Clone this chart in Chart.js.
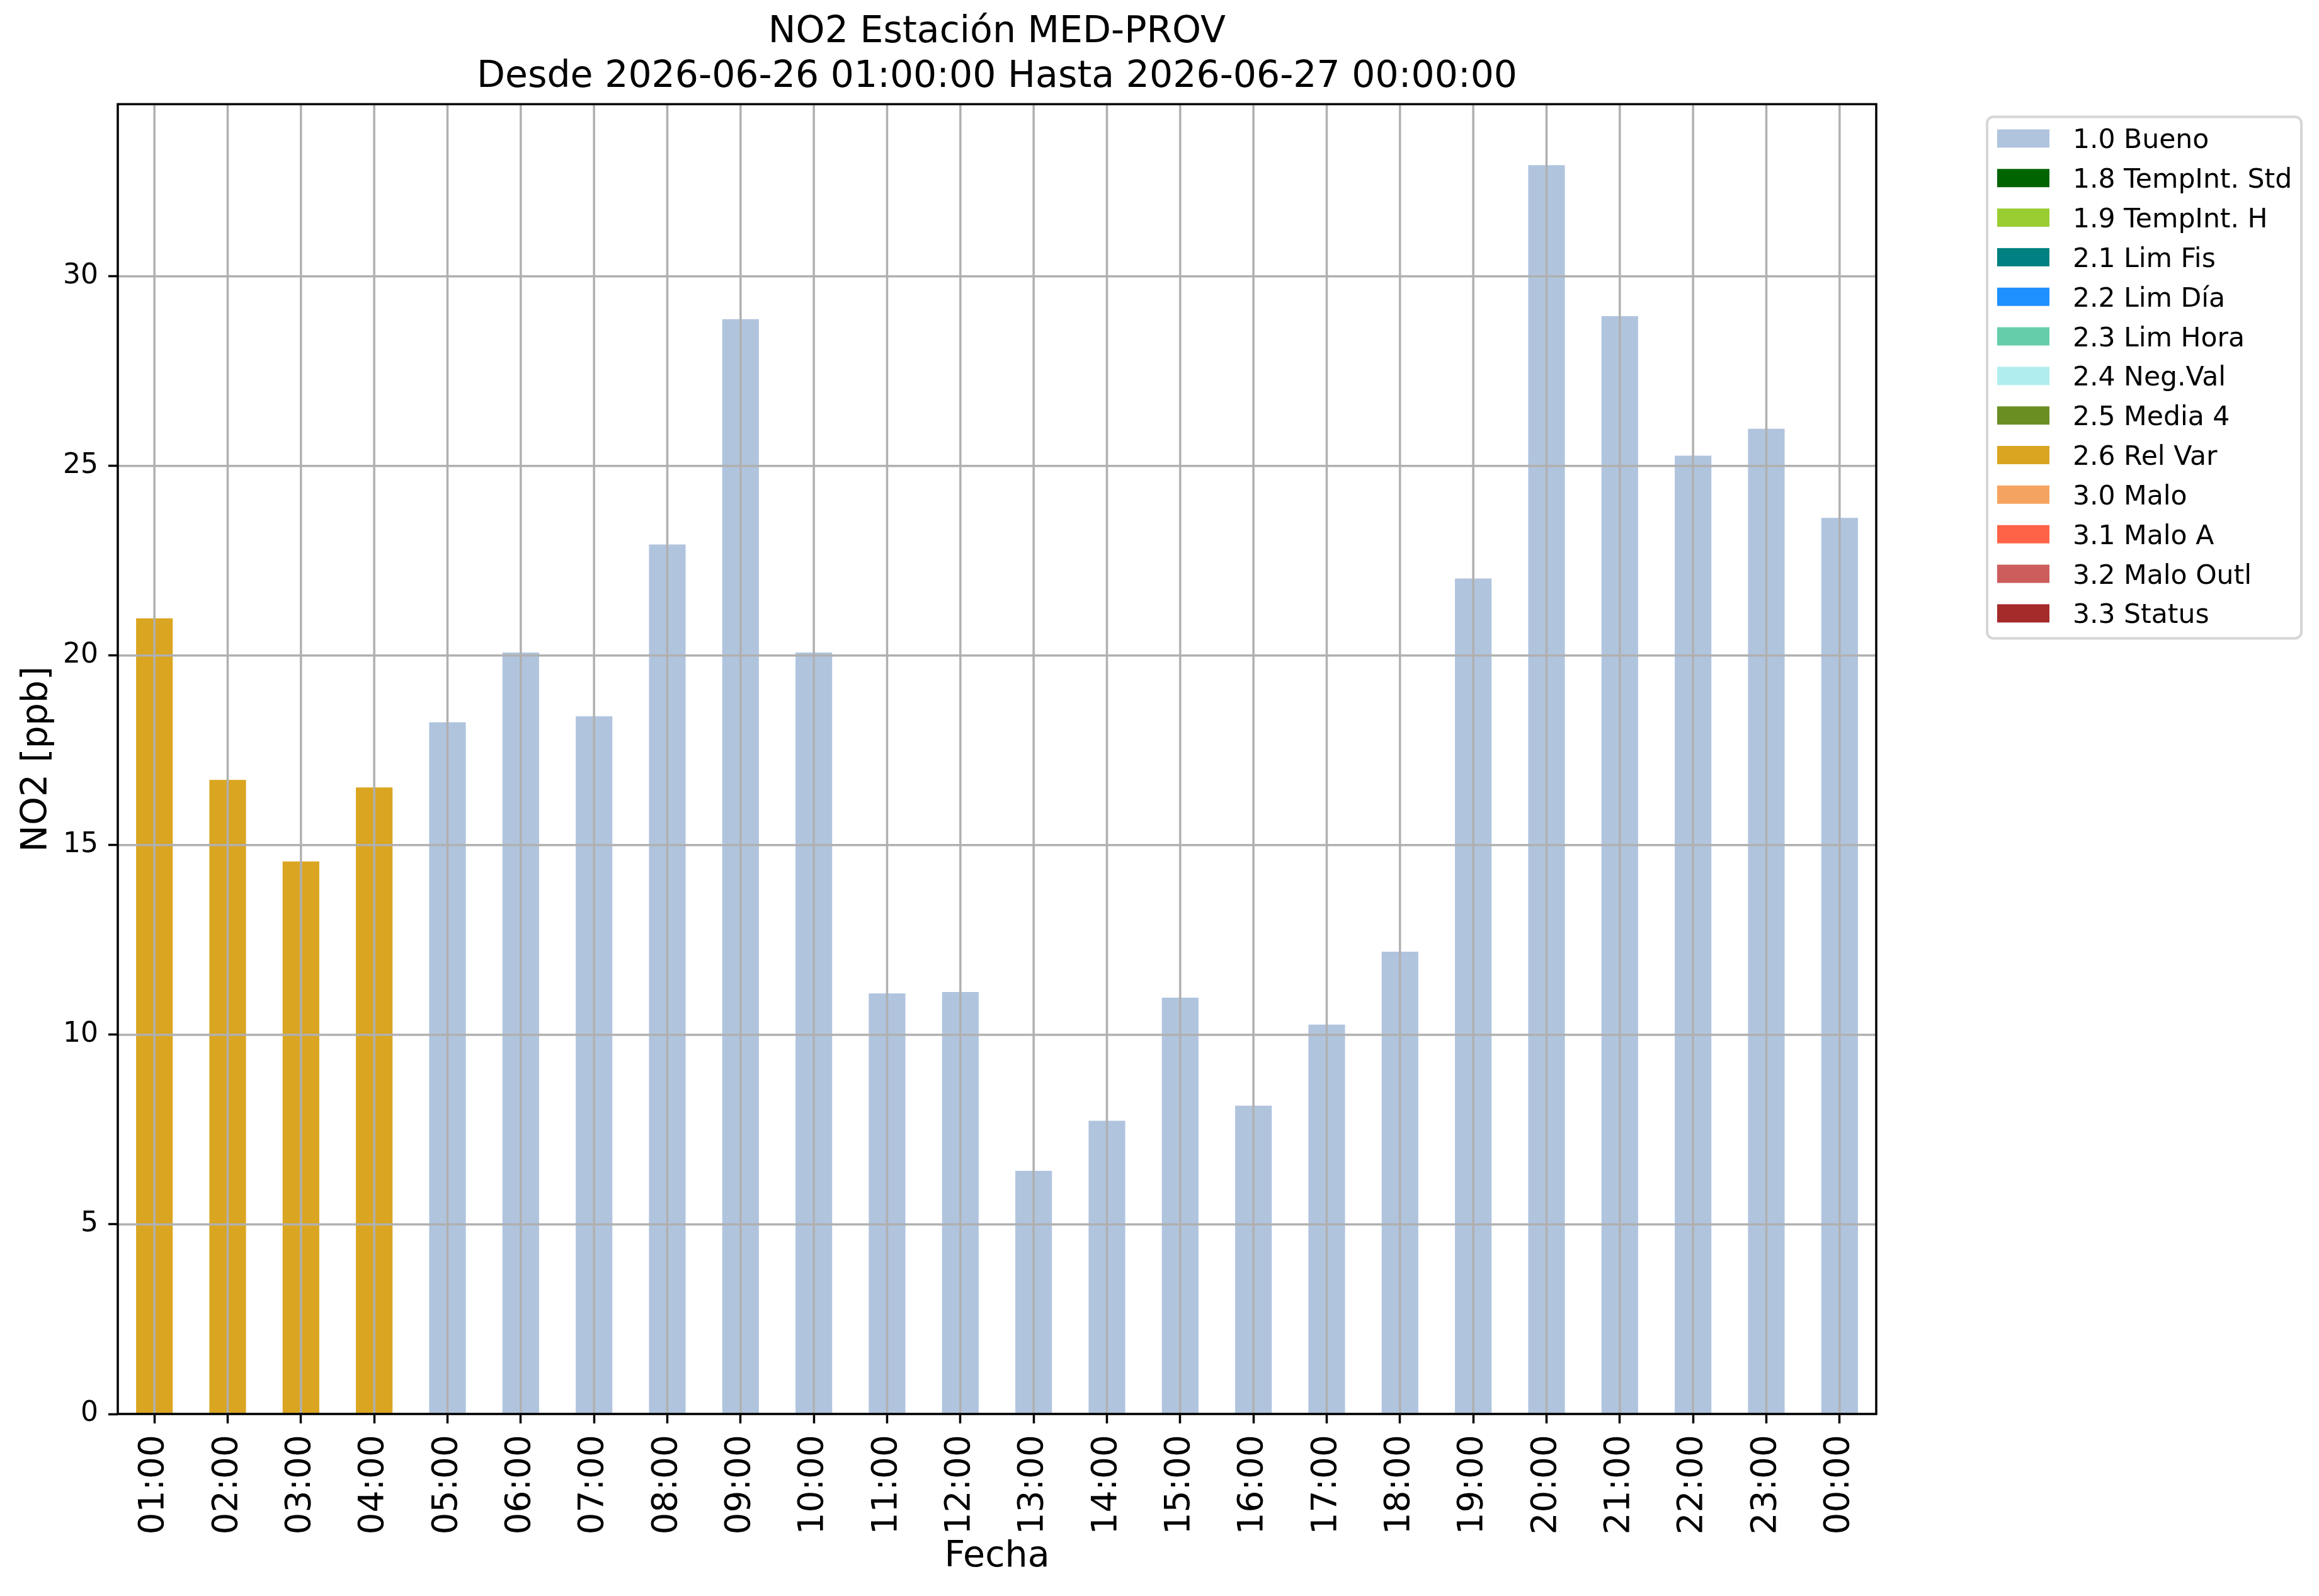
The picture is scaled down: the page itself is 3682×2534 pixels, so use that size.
<!DOCTYPE html>
<html>
<head>
<meta charset="utf-8">
<script src="https://cdn.jsdelivr.net/npm/chart.js@4/dist/chart.umd.min.js"></script>
<style>
html, body { margin: 0; padding: 0; background: #fff; overflow: hidden; }
canvas { display: block; }
</style>
</head>
<body>
<canvas id="no2_chart" width="3682" height="2534"></canvas>
<script>
// horas del periodo (eje x)
const horas = ["01:00", "02:00", "03:00", "04:00", "05:00", "06:00", "07:00", "08:00",
               "09:00", "10:00", "11:00", "12:00", "13:00", "14:00", "15:00", "16:00",
               "17:00", "18:00", "19:00", "20:00", "21:00", "22:00", "23:00", "00:00"];
// NO2 [ppb] por hora
const no2 = [20.98, 16.72, 14.57, 16.52, 18.24, 20.08, 18.40, 22.93,
             28.87, 20.08, 11.09, 11.13, 6.41, 7.73, 10.98, 8.13,
             10.27, 12.19, 22.03, 32.93, 28.95, 25.27, 25.98, 23.63];
// bandera de calidad de cada hora
const banderas = ["2.6", "2.6", "2.6", "2.6", "1.0", "1.0", "1.0", "1.0",
                  "1.0", "1.0", "1.0", "1.0", "1.0", "1.0", "1.0", "1.0",
                  "1.0", "1.0", "1.0", "1.0", "1.0", "1.0", "1.0", "1.0"];
// codigos de la leyenda
const codigos = ["1.0", "1.8", "1.9", "2.1", "2.2", "2.3", "2.4", "2.5", "2.6", "3.0", "3.1", "3.2", "3.3"];
const nombres = ["Bueno", "TempInt. Std", "TempInt. H", "Lim Fis", "Lim Día", "Lim Hora",
                 "Neg.Val", "Media 4", "Rel Var", "Malo", "Malo A", "Malo Outl", "Status"];
const colores = ["#b0c4de", "#006400", "#9acd32", "#008080", "#1e90ff", "#66cdaa",
                 "#afeeee", "#6b8e23", "#daa520", "#f4a460", "#ff6347", "#cd5c5c", "#a52a2a"];
const yPaso = 5;
const yMax = 34.54;

const fuente = "'DejaVu Sans', 'Liberation Sans', sans-serif";

const datasets = codigos.map((c, k) => ({
    label: c + " " + nombres[k],
    data: no2.map((v, i) => banderas[i] === c ? v : null),
    backgroundColor: colores[k],
    borderWidth: 0,
    barPercentage: 0.5,
    categoryPercentage: 1.0
}));

// rejilla encima de las barras, marco de los ejes y leyenda con caja
const marco = {
    id: 'marco',
    afterDatasetsDraw(chart) {
        const {ctx, chartArea: a} = chart;
        const x = chart.scales.x, y = chart.scales.y;
        ctx.save();
        ctx.strokeStyle = '#b0b0b0';
        ctx.lineWidth = 3.5;
        ctx.beginPath();
        x.ticks.forEach((t, i) => {
            const px = x.getPixelForTick(i);
            ctx.moveTo(px, a.top);
            ctx.lineTo(px, a.bottom);
        });
        y.ticks.forEach((t, i) => {
            const py = y.getPixelForTick(i);
            ctx.moveTo(a.left, py);
            ctx.lineTo(a.right, py);
        });
        ctx.stroke();
        ctx.strokeStyle = '#000';
        ctx.strokeRect(a.left, a.top, a.right - a.left, a.bottom - a.top);
        ctx.restore();
    },
    afterDraw(chart) {
        const {ctx, chartArea: a} = chart;
        const bx = a.right + 176, by = a.top + 20, bw = 499, bh = 828;
        ctx.save();
        ctx.fillStyle = '#fff';
        ctx.strokeStyle = '#d6d6d6';
        ctx.lineWidth = 4;
        ctx.beginPath();
        ctx.roundRect(bx, by, bw, bh, 10);
        ctx.fill();
        ctx.stroke();
        ctx.font = "42.5px " + fuente;
        ctx.textAlign = 'left';
        ctx.textBaseline = 'alphabetic';
        chart.data.datasets.forEach((ds, k) => {
            const cy = by + 34.5 + k * 62.83;
            ctx.fillStyle = ds.backgroundColor;
            ctx.fillRect(bx + 16, cy - 14.5, 83, 29);
            ctx.fillStyle = '#000';
            ctx.fillText(ds.label, bx + 136, cy + 15.5);
        });
        ctx.restore();
    }
};

const ctx = document.getElementById("no2_chart");
const no2_chart = new Chart(ctx, {
    type: 'bar',
    data: {
        labels: horas,
        datasets: datasets
    },
    options: {
        responsive: false,
        devicePixelRatio: 1,
        animation: false,
        layout: {
            padding: {left: 0, right: 703, top: 0, bottom: 0}
        },
        plugins: {
            legend: {
                display: false
            },
            tooltip: {
                enabled: false
            },
            title: {
                display: true,
                fullSize: false,
                text: ["NO2 Estación MED-PROV", "Desde 2026-06-26 01:00:00 Hasta 2026-06-27 00:00:00"],
                color: '#000',
                font: {family: fuente, size: 58.5, weight: 'normal', lineHeight: 1.2},
                padding: {top: 17, bottom: 8}
            }
        },
        scales: {
            x: {
                stacked: true,
                border: {display: false},
                grid: {
                    offset: false,
                    drawOnChartArea: false,
                    tickLength: 15,
                    tickWidth: 3.5,
                    tickColor: '#000'
                },
                ticks: {
                    autoSkip: false,
                    minRotation: 90,
                    maxRotation: 90,
                    padding: 18,
                    color: '#000',
                    font: {family: fuente, size: 55}
                },
                title: {
                    display: true,
                    text: 'Fecha',
                    color: '#000',
                    font: {family: fuente, size: 57, lineHeight: 1.2},
                    padding: {top: 0, bottom: 28}
                },
                afterFit(scale) {
                    scale.height = 289;
                    scale.paddingLeft = 0;
                    scale.paddingRight = 0;
                }
            },
            y: {
                stacked: true,
                min: 0,
                max: yMax,
                border: {display: false},
                grid: {
                    drawOnChartArea: false,
                    tickLength: 15,
                    tickWidth: 3.5,
                    tickColor: '#000'
                },
                ticks: {
                    stepSize: yPaso,
                    includeBounds: false,
                    padding: 16,
                    color: '#000',
                    font: {family: fuente, size: 44}
                },
                title: {
                    display: true,
                    text: 'NO2 [ppb]',
                    color: '#000',
                    font: {family: fuente, size: 57, lineHeight: 1.2},
                    padding: {top: 25, bottom: 0}
                },
                afterFit(scale) {
                    scale.width = 187;
                    scale.paddingTop = 0;
                    scale.paddingBottom = 0;
                }
            }
        }
    },
    plugins: [marco]
});
</script>
</body>
</html>
